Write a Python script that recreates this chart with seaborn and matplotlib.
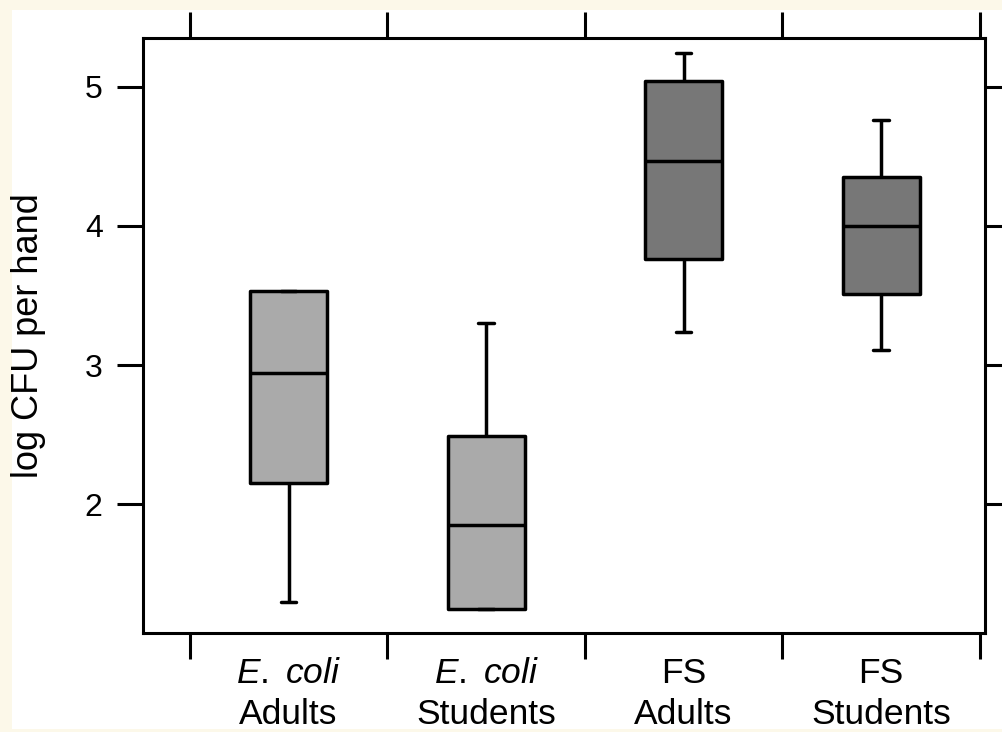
import numpy as np
import pandas as pd
import matplotlib.pyplot as plt
import seaborn as sns
from matplotlib.patches import Rectangle

# grupos e valores (min, Q1, mediana, Q3, max)
groups = ['E. coli Adults', 'E. coli Students', 'FS Adults', 'FS Students']
tick_labels = ['$\\mathit{E.}$ $\\mathit{coli}$\nAdults', '$\\mathit{E.}$ $\\mathit{coli}$\nStudents',
               'FS\nAdults', 'FS\nStudents']
ecoli_adults = [1.30, 2.15, 2.94, 3.53, 3.53]
ecoli_students = [1.25, 1.25, 1.85, 2.49, 3.30]
fs_adults = [3.24, 3.76, 4.47, 5.04, 5.24]
fs_students = [3.11, 3.51, 4.00, 4.35, 4.76]
box_colors = ['#aaaaaa', '#aaaaaa', '#777777', '#777777']

sns.set_style('white')
plt.rcParams['font.family'] = ['Liberation Sans', 'DejaVu Sans']
plt.rcParams['mathtext.fontset'] = 'custom'
plt.rcParams['mathtext.rm'] = 'Liberation Sans'
plt.rcParams['mathtext.it'] = 'Liberation Sans:italic'
plt.rcParams['text.color'] = 'black'
plt.rcParams['axes.labelcolor'] = 'black'
plt.rcParams['xtick.color'] = 'black'
plt.rcParams['ytick.color'] = 'black'

df = pd.DataFrame({
    'group': np.repeat(groups, 5),
    'value': np.concatenate([ecoli_adults, ecoli_students, fs_adults, fs_students]),
})

fig = plt.figure(figsize=(10.02, 7.32), dpi=100, facecolor='#fcf8e9')
fig.patches.append(Rectangle((12 / 1002, 3 / 732), 1, 1 - 13 / 732, transform=fig.transFigure,
                             facecolor='white', edgecolor='none', zorder=-1))
ax = fig.add_axes([0.1427, 0.1348, 0.8403, 0.8132])

sns.boxplot(data=df, x='group', y='value', hue='group', order=groups, hue_order=groups,
            palette=box_colors, saturation=1, legend=False, width=0.39, whis=(0, 100),
            linewidth=2.5, linecolor='black', capwidths=0.08,
            boxprops=dict(joinstyle='round'), ax=ax)

ax.set_xlim(-0.737, 3.526)
ax.set_ylim(1.073, 5.35)

# ticks nas fronteiras, rótulos no centro das caixas
ax.set_xticks(np.arange(-0.5, 4, 1))
ax.set_xticklabels([])
ax.set_xticks(range(4), minor=True)
ax.set_xticklabels(tick_labels, minor=True, fontsize=25.5, linespacing=1.3)
ax.tick_params(axis='x', which='minor', length=0, pad=17)
ax.tick_params(axis='x', which='major', direction='out', length=19, width=2.2,
               top=True, bottom=True)
ax.set_yticks([2, 3, 4, 5])
ax.tick_params(axis='y', direction='out', length=19, width=2.2, left=True, right=True,
               labelsize=23, pad=10)

ax.set_xlabel('')
ax.set_ylabel('log CFU per hand', fontsize=26, labelpad=28)
for s in ax.spines.values():
    s.set_linewidth(2.2)
    s.set_color('black')

fig.savefig('out.png', dpi=100)
